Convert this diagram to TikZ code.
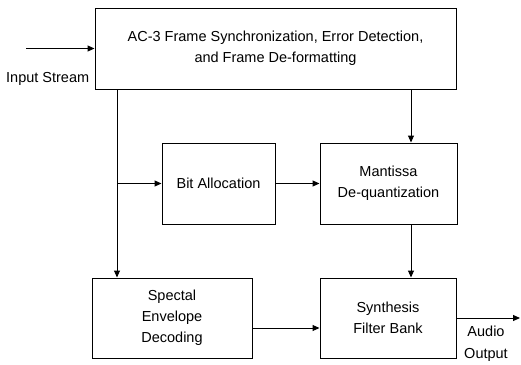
\documentclass[tikz,border=0pt]{standalone}
\usepackage{fontspec}
\setmainfont{Liberation Sans}
\usetikzlibrary{arrows.meta}
\tikzset{blk/.style={draw,line width=1pt,align=center,inner sep=0pt,font=\fontsize{14.5}{21}\selectfont},
  flow/.style={line width=1pt,-{Triangle[length=7pt,width=6pt]}}}
\newcommand{\blk}[4]{node[blk,minimum width=#1,minimum height=#2] (#3) {#4}}

\begin{document}
\begin{tikzpicture}[x=1pt,y=-1pt]
\useasboundingbox (0,0) rectangle (521,364);
\path (275.5,48.5) \blk{361pt}{81pt}{frame}{AC-3 Frame Synchronization, Error Detection,\\and Frame De-formatting};
\path (218.5,183.5) \blk{113pt}{81pt}{bit}{Bit Allocation};
\path (388.5,183.5) \blk{137pt}{81pt}{mant}{Mantissa\\De-quantization};
\path (172,318) \blk{160pt}{80pt}{spec}{Spectal\\Envelope\\Decoding};
\path (388,318) \blk{136pt}{80pt}{synth}{Synthesis\\Filter Bank};
\coordinate (in) at (26,48.5);
\coordinate (tap) at (117,183.5);
\coordinate (rx) at (411,0);
\coordinate (sx) at (0,328);
\coordinate (out) at (520,318);
\draw[flow] (in) -- (frame.west);
\draw[flow] (frame.south -| tap) -- (spec.north -| tap);
\draw[flow] (tap) -- (bit.west);
\draw[flow] (bit) -- (mant);
\draw[flow] (frame.south -| rx) -- (mant.north -| rx);
\draw[flow] (mant.south -| rx) -- (synth.north -| rx);
\draw[flow] (spec.east |- sx) -- (synth.west |- sx);
\draw[flow] (synth) -- (out);
\node[anchor=west,inner sep=0pt,font=\fontsize{14.5}{21}\selectfont] (inlbl) at (6,79) {Input Stream};
\node[align=center,inner sep=0pt,font=\fontsize{14.5}{22}\selectfont] (outlbl) at (486,344) {Audio\\Output};
\end{tikzpicture}
\end{document}
